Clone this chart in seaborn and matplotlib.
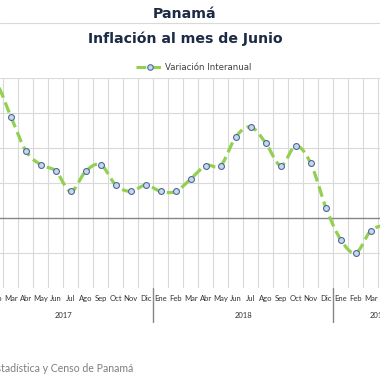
import numpy as np
import matplotlib
matplotlib.use("Agg")
import matplotlib.pyplot as plt
from matplotlib.lines import Line2D
import seaborn as sns

# Data (% interanual), Ene 2017 - Jun 2019
meses = ["Ene", "Feb", "Mar", "Abr", "May", "Jun",
         "Jul", "Ago", "Sep", "Oct", "Nov", "Dic"]
anios = ["2017", "2018", "2019"]
etiquetas = meses * 2 + meses[:6]
inflacion = [1.90, 1.93, 1.45, 0.96, 0.76, 0.67, 0.38, 0.67, 0.76, 0.47, 0.38, 0.47,
             0.38, 0.38, 0.56, 0.75, 0.75, 1.16, 1.30, 1.07, 0.75, 1.03, 0.78, 0.15,
             -0.31, -0.50, -0.18, -0.10, np.nan, np.nan]

VERDE = "#92D050"
NAVY = "#1c2b45"


# Excel-like smoothed line (bezier through the points)
def suavizar(y, n=20):
    y = np.asarray(y, dtype=float)
    idx = np.where(~np.isnan(y))[0]
    x = idx.astype(float)
    v = y[idx]
    xs, ys = [], []
    t = np.linspace(0, 1, n)
    for i in range(len(x) - 1):
        p0 = np.array([x[i], v[i]])
        p3 = np.array([x[i + 1], v[i + 1]])
        pa = np.array([x[max(i - 1, 0)], v[max(i - 1, 0)]])
        pb = np.array([x[min(i + 2, len(x) - 1)], v[min(i + 2, len(x) - 1)]])
        p1 = p0 + (p3 - pa) / 6
        p2 = p3 - (pb - p0) / 6
        pts = ((1 - t) ** 3)[:, None] * p0 + (3 * (1 - t) ** 2 * t)[:, None] * p1 \
            + (3 * (1 - t) * t ** 2)[:, None] * p2 + (t ** 3)[:, None] * p3
        xs.extend(pts[:, 0])
        ys.extend(pts[:, 1])
    return np.array(xs), np.array(ys)


sns.set_style("white")
plt.rcParams["font.family"] = ["DejaVu Sans"]

fig = plt.figure(figsize=(3.8, 3.8), dpi=100)
# plot area is wider than the figure: the picture is a crop of a larger chart
ax = fig.add_axes([-26.7 / 380, 92 / 380, 450 / 380, 210 / 380])

n = len(etiquetas)
pos = np.arange(n)
ax.set_xlim(-0.5, n - 0.5)
ax.set_ylim(-1.0, 2.0)

for b in np.arange(-0.5, n, 1.0):
    ax.axvline(b, color="#d9d9d9", lw=0.8, zorder=0)
for g in [-0.5, 0.5, 1.0, 1.5, 2.0]:
    ax.axhline(g, color="#d9d9d9", lw=0.8, zorder=0)
ax.axhline(0, color="#868686", lw=1.0, zorder=1)

xs, ys = suavizar(inflacion)
sns.lineplot(x=xs, y=ys, ax=ax, color=VERDE, linewidth=2.3, sort=False,
             estimator=None, linestyle=(0, (3.4, 1.6)), zorder=2)
sns.scatterplot(x=pos, y=inflacion, ax=ax, s=18, color="#cdd6e6",
                edgecolor="#4a6a9c", linewidth=0.8, zorder=3)

for s in ax.spines.values():
    s.set_visible(False)
ax.set_xticks([])
ax.set_yticks([])
ax.set_xlabel("")
ax.set_ylabel("")

trans = ax.get_xaxis_transform()
for i, lab in enumerate(etiquetas):
    ax.text(i, -0.052, lab, transform=trans, ha="center", va="center",
            fontsize=5.5, color="#333333", family="Lato", clip_on=False)
for k, a in enumerate(anios):
    ini = 12 * k
    fin = min(12 * k + 11, n - 1)
    ax.text((ini + fin) / 2, -0.133, a, transform=trans, ha="center",
            va="center", fontsize=5.5, color="#333333", family="Lato")
for b in [11.5, 23.5]:
    ax.axvline(b, ymin=-0.162, ymax=0, color="#868686", lw=1.0, clip_on=False)

fig.text(185 / 380, 1 - 14 / 380, "Panamá", ha="center", va="center",
         fontsize=10.2, fontweight="bold", color=NAVY)
fig.text(185 / 380, 1 - 39 / 380, "Inflación al mes de Junio", ha="center",
         va="center", fontsize=10.2, fontweight="bold", color=NAVY)
fig.add_artist(Line2D([0, 1], [1 - 23 / 380, 1 - 23 / 380],
                      transform=fig.transFigure, color="#d9d9d9", lw=0.8))

h = Line2D([], [], color=VERDE, lw=2.2, linestyle=(0, (3.2, 1.6)),
           marker="o", markersize=4, markerfacecolor="#cdd6e6",
           markeredgecolor="#4a6a9c", markeredgewidth=0.8)
fig.legend(handles=[h], labels=["Variación Interanual"], loc="center",
           bbox_to_anchor=(194 / 380, 1 - 68 / 380), frameon=False,
           fontsize=6.2, handlelength=3.1, handletextpad=0.25,
           labelcolor="#404040")

fig.text(133 / 380, 1 - 369 / 380,
         "Fuente: Instituto Nacional de Estadística y Censo de Panamá",
         ha="right", va="center", fontsize=7.6, color="#7f7f7f", family="Lato")

fig.savefig("out.png", dpi=100)
